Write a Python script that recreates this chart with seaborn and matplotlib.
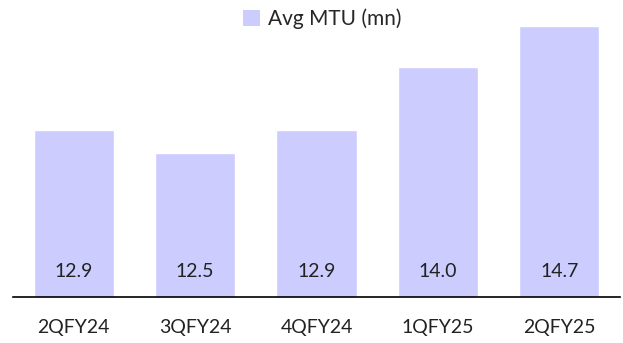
import matplotlib
matplotlib.use("Agg")
import matplotlib.pyplot as plt
import seaborn as sns
import pandas as pd
from matplotlib.patches import Patch

categories = ["2QFY24", "3QFY24", "4QFY24", "1QFY25", "2QFY25"]
values = [12.9, 12.5, 12.9, 14.0, 14.7]
series_name = "Avg MTU (mn)"

sns.set_theme(style="white")
plt.rcParams["font.family"] = ["Lato", "DejaVu Sans"]

df = pd.DataFrame({"quarter": categories, "value": values})
color = "#CCCCFF"

fig = plt.figure(figsize=(6.23, 3.43), dpi=100)
ax = fig.add_axes([13/623, 1-297/343, 607/623, 297/343])
sns.barplot(data=df, x="quarter", y="value", color=color, width=0.66,
            saturation=1, ax=ax)
ax.set_ylim(10, 15.16)
ax.set_xlim(-0.5, 4.5)
for i, v in enumerate(values):
    ax.text(i, 10.45, f"{v:.1f}", ha="center", va="center", fontsize=14, color="#222222")
ax.set_xlabel("")
ax.set_ylabel("")
ax.set_yticks([])
for s in ["top", "left", "right"]:
    ax.spines[s].set_visible(False)
ax.spines["bottom"].set_color("#000000")
ax.spines["bottom"].set_linewidth(1.2)
ax.tick_params(axis="x", length=0, pad=16, labelsize=14, colors="#222222")
ax.legend(handles=[Patch(facecolor=color, edgecolor="none", label=series_name)],
          loc="upper center", bbox_to_anchor=(0.51, 1.0), frameon=False,
          fontsize=15, handlelength=0.8, handleheight=0.8, handletextpad=0.4,
          borderaxespad=0.0)
fig.savefig("out.png", dpi=100)
